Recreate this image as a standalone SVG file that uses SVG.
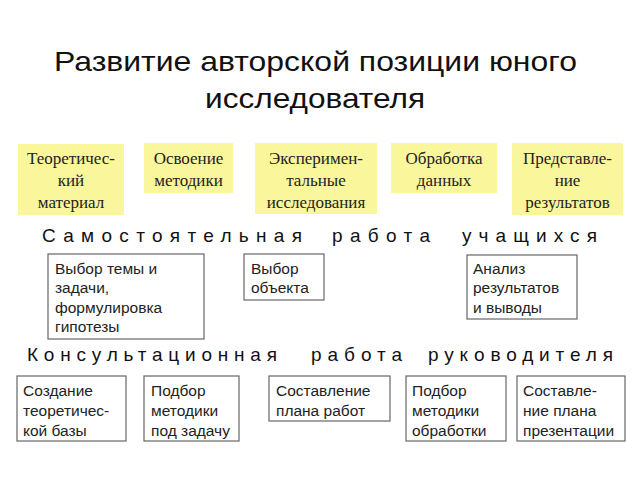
<svg xmlns="http://www.w3.org/2000/svg" width="640" height="480" viewBox="0 0 640 480">
<style>
.y{fill:#FAF69C;stroke:none}
.b{fill:#fff;stroke:#666;stroke-width:1.2}
.s{font-family:"Liberation Serif","Times New Roman",serif;font-size:17px;fill:#222;text-anchor:middle}
.a{font-family:"Liberation Sans",Arial,sans-serif;font-size:15.5px;fill:#222}
.h{font-family:"Liberation Sans",Arial,sans-serif;font-size:19px;fill:#111}
.t{font-family:"Liberation Sans",Arial,sans-serif;font-size:28px;fill:#111}
</style>
<rect width="640" height="480" fill="#fff"/>
<g id="title">
<text class="t" x="54" y="71" textLength="523" lengthAdjust="spacingAndGlyphs">Развитие авторской позиции юного</text>
<text class="t" x="205" y="108" textLength="220" lengthAdjust="spacingAndGlyphs">исследователя</text>
</g>
<g id="y1"><rect class="y" x="18" y="144" width="106" height="71"/>
<text class="s" x="71" y="164">Теоретичес-</text><text class="s" x="71" y="186">кий</text><text class="s" x="71" y="208">материал</text></g>
<g id="y2"><rect class="y" x="144" y="143" width="89" height="50"/>
<text class="s" x="188.5" y="164">Освоение</text><text class="s" x="188.5" y="186">методики</text></g>
<g id="y3"><rect class="y" x="255" y="143" width="122" height="71"/>
<text class="s" x="316" y="164">Эксперимен-</text><text class="s" x="316" y="186">тальные</text><text class="s" x="316" y="208">исследования</text></g>
<g id="y4"><rect class="y" x="391" y="143" width="106" height="50"/>
<text class="s" x="444" y="164">Обработка</text><text class="s" x="444" y="186">данных</text></g>
<g id="y5"><rect class="y" x="512" y="143" width="111" height="72"/>
<text class="s" x="567.5" y="164">Представле-</text><text class="s" x="567.5" y="186">ние</text><text class="s" x="567.5" y="208">результатов</text></g>
<g id="h1">
<text class="h" x="42" y="242" textLength="260" lengthAdjust="spacing">Самостоятельная</text>
<text class="h" x="332" y="242" textLength="98" lengthAdjust="spacing">работа</text>
<text class="h" x="462" y="242" textLength="135" lengthAdjust="spacing">учащихся</text>
</g>
<g id="m1"><rect class="b" x="48" y="254" width="156" height="85"/>
<text class="a" x="55" y="274">Выбор темы и</text><text class="a" x="55" y="293">задачи,</text><text class="a" x="55" y="313">формулировка</text><text class="a" x="55" y="332">гипотезы</text></g>
<g id="m2"><rect class="b" x="244" y="254" width="80" height="46"/>
<text class="a" x="251" y="274">Выбор</text><text class="a" x="251" y="293">объекта</text></g>
<g id="m3"><rect class="b" x="467" y="255" width="110" height="64"/>
<text class="a" x="473" y="274">Анализ</text><text class="a" x="473" y="293">результатов</text><text class="a" x="473" y="313">и выводы</text></g>
<g id="h2">
<text class="h" x="27" y="361" textLength="250" lengthAdjust="spacing">Консультационная</text>
<text class="h" x="311" y="361" textLength="91" lengthAdjust="spacing">работа</text>
<text class="h" x="428" y="361" textLength="185" lengthAdjust="spacing">руководителя</text>
</g>
<g id="b1"><rect class="b" x="17" y="376" width="109" height="65"/>
<text class="a" x="23" y="396">Создание</text><text class="a" x="23" y="416">теоретичес-</text><text class="a" x="23" y="436">кой базы</text></g>
<g id="b2"><rect class="b" x="144" y="376" width="95" height="65"/>
<text class="a" x="151" y="396">Подбор</text><text class="a" x="151" y="416">методики</text><text class="a" x="151" y="436">под задачу</text></g>
<g id="b3"><rect class="b" x="269" y="376" width="121" height="45"/>
<text class="a" x="276" y="396">Составление</text><text class="a" x="276" y="416">плана работ</text></g>
<g id="b4"><rect class="b" x="406" y="376" width="100" height="65"/>
<text class="a" x="412" y="396">Подбор</text><text class="a" x="412" y="416">методики</text><text class="a" x="412" y="436">обработки</text></g>
<g id="b5"><rect class="b" x="517" y="376" width="108" height="65"/>
<text class="a" x="523" y="396">Составле-</text><text class="a" x="523" y="416">ние плана</text><text class="a" x="523" y="436">презентации</text></g>
<g id="connectors"/>
</svg>
